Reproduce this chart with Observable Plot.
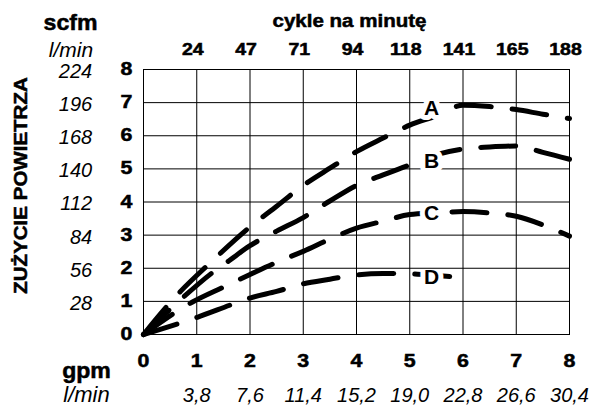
<!DOCTYPE html>
<html><head><meta charset="utf-8">
<script src="https://cdn.jsdelivr.net/npm/d3@7"></script>
<script src="https://cdn.jsdelivr.net/npm/@observablehq/plot@0.6"></script>
<style>
body{margin:0;background:#fff;}
#chart svg{display:block}
</style></head><body><div id="chart"></div>
<script>
// ticks and tick labels
const gpmTicks = [0,1,2,3,4,5,6,7,8];
const scfmTicks = [0,1,2,3,4,5,6,7,8];
const cycleLabels = ["","24","47","71","94","118","141","165","188"];
const lpmFlowLabels = ["","3,8","7,6","11,4","15,2","19,0","22,8","26,6","30,4"];
const lpmAirLabels = ["","28","56","84","112","140","168","196","224"];

// curves (gpm -> scfm)
const gpmA  = [0, 0.7, 1.23, 2, 2.5, 3, 3.5, 4, 4.5, 5, 5.5, 6, 6.5, 7, 7.5, 8];
const scfmA = [0, 1.31, 2.13, 3.25, 3.87, 4.5, 5.02, 5.52, 5.93, 6.32, 6.6, 6.92, 6.88, 6.79, 6.65, 6.52];
const gpmB  = [0, 0.75, 1.28, 1.6, 2, 2.5, 3, 3.5, 4, 4.5, 5, 5.5, 6, 6.5, 7, 7.5, 8];
const scfmB = [0, 1.13, 1.85, 2.22, 2.68, 3.12, 3.53, 4.03, 4.5, 4.82, 5.12, 5.43, 5.6, 5.66, 5.69, 5.5, 5.29];
const gpmC  = [0, 0.92, 1.5, 2, 2.5, 3, 3.5, 4, 4.5, 5, 5.5, 6, 6.5, 7, 7.5, 8];
const scfmC = [0, 0.98, 1.43, 1.81, 2.18, 2.51, 2.88, 3.21, 3.42, 3.62, 3.67, 3.71, 3.67, 3.57, 3.31, 2.97];
const gpmD  = [0, 1.01, 1.7, 2, 2.5, 3, 3.5, 4, 4.5, 5, 5.5, 6];
const scfmD = [0, 0.52, 0.93, 1.1, 1.3, 1.53, 1.67, 1.8, 1.84, 1.83, 1.78, 1.72];

// curve labels
const curveNames = ["A","B","C","D"];
const labelGpm  = [5.41, 5.41, 5.41, 5.41];
const labelScfm = [6.84, 5.24, 3.67, 1.74];

const series = {A:[gpmA,scfmA], B:[gpmB,scfmB], C:[gpmC,scfmC], D:[gpmD,scfmD]};
const rows = [];
for (const [name,[xs,ys]] of Object.entries(series)) xs.forEach((x,i)=>rows.push({curve:name, gpm:x, scfm:ys[i]}));
const labels = curveNames.map((n,i)=>({name:n, gpm:labelGpm[i], scfm:labelScfm[i]}));
const labelsAB = labels.filter(d=>d.name==="A"||d.name==="B");
const labelsCD = labels.filter(d=>d.name==="C"||d.name==="D");

const labelOpts = {x:"gpm", y:"scfm", text:"name", fontWeight:"bold", fontSize:21, fill:"black", stroke:"white", strokeWidth:10};

const plot = Plot.plot({
  width: 591, height: 407,
  marginTop: 69, marginLeft: 143, marginRight: 22, marginBottom: 73,
  x: {domain:[0,8]}, y: {domain:[0,8]},
  style: {fontFamily:"'Liberation Sans', Arial, sans-serif", fontSize:"16px", background:"white", color:"black", overflow:"visible"},
  marks: [
    Plot.line(rows, {x:"gpm", y:"scfm", z:"curve", stroke:"black", strokeWidth:5, strokeDasharray:"35,21", strokeLinecap:"round", curve:"monotone-x"}),
    Plot.text(labelsCD, labelOpts),
    Plot.gridX(gpmTicks, {stroke:"black", strokeOpacity:1, strokeWidth:1}),
    Plot.gridY(scfmTicks, {stroke:"black", strokeOpacity:1, strokeWidth:1}),
    Plot.frame({stroke:"black"}),
    Plot.text(labelsAB, labelOpts),
    Plot.axisX(gpmTicks, {anchor:"bottom", tickSize:0, tickPadding:20, fontWeight:"bold", fontSize:17.5, label:null}),
    Plot.axisX(gpmTicks, {anchor:"bottom", tickSize:0, tickPadding:53.5, fontStyle:"italic", fontSize:20, tickFormat:i=>lpmFlowLabels[i], label:null}),
    Plot.axisX(gpmTicks, {anchor:"top", tickSize:0, tickPadding:14.7, fontWeight:"bold", fontSize:16, tickFormat:i=>cycleLabels[i], dx:-4, label:null}),
    Plot.axisY(scfmTicks, {anchor:"left", tickSize:0, tickPadding:11, fontWeight:"bold", fontSize:17.5, label:null}),
    Plot.axisY(scfmTicks, {anchor:"left", tickSize:0, tickPadding:51.3, fontStyle:"italic", fontSize:20, tickFormat:i=>lpmAirLabels[i], dy:2, label:null}),
    Plot.text(["cykle na minutę"], {frameAnchor:"top", dx:-7, dy:-43, lineAnchor:"bottom", fontWeight:"bold", fontSize:18}),
    Plot.text(["scfm"], {frameAnchor:"top-left", textAnchor:"middle", dx:-73, dy:-39.7, lineAnchor:"bottom", fontWeight:"bold", fontSize:22}),
    Plot.text(["l/min"], {frameAnchor:"top-left", textAnchor:"end", dx:-50.3, dy:-13, lineAnchor:"bottom", fontStyle:"italic", fontSize:21}),
    Plot.text(["gpm"], {frameAnchor:"bottom-left", textAnchor:"middle", dx:-57, dy:43.3, lineAnchor:"bottom", fontWeight:"bold", fontSize:22}),
    Plot.text(["l/min"], {frameAnchor:"bottom-left", textAnchor:"middle", dx:-57, dy:67.7, lineAnchor:"bottom", fontStyle:"italic", fontSize:22}),
    Plot.text(["ZUŻYCIE POWIETRZA"], {frameAnchor:"left", textAnchor:"middle", lineAnchor:"middle", rotate:-90, dx:-123, dy:-16.5, fontWeight:"bold", fontSize:19})
  ]
});
document.getElementById("chart").appendChild(plot);

// horizontal stretch and extra weight of the bold lettering (the reference face is wider and heavier)
const stretchMap = {"cykle na minutę":1.14, "scfm":1.05, "gpm":1.05, "ZUŻYCIE POWIETRZA":1.08};
plot.querySelectorAll("text").forEach(t => {
  const s = t.textContent.trim();
  const bold = +getComputedStyle(t).fontWeight >= 600;
  let k = 1;
  if (stretchMap[s]) k = stretchMap[s];
  else if (bold && /^\d+$/.test(s)) k = 1.22;
  if (k !== 1) {
    const tr = t.getAttribute("transform") || "";
    t.setAttribute("transform", tr + ` scale(${k},1)`);
    t.style.stroke = "black";
    t.style.strokeWidth = "0.5px";
  }
});
</script>
</body></html>
